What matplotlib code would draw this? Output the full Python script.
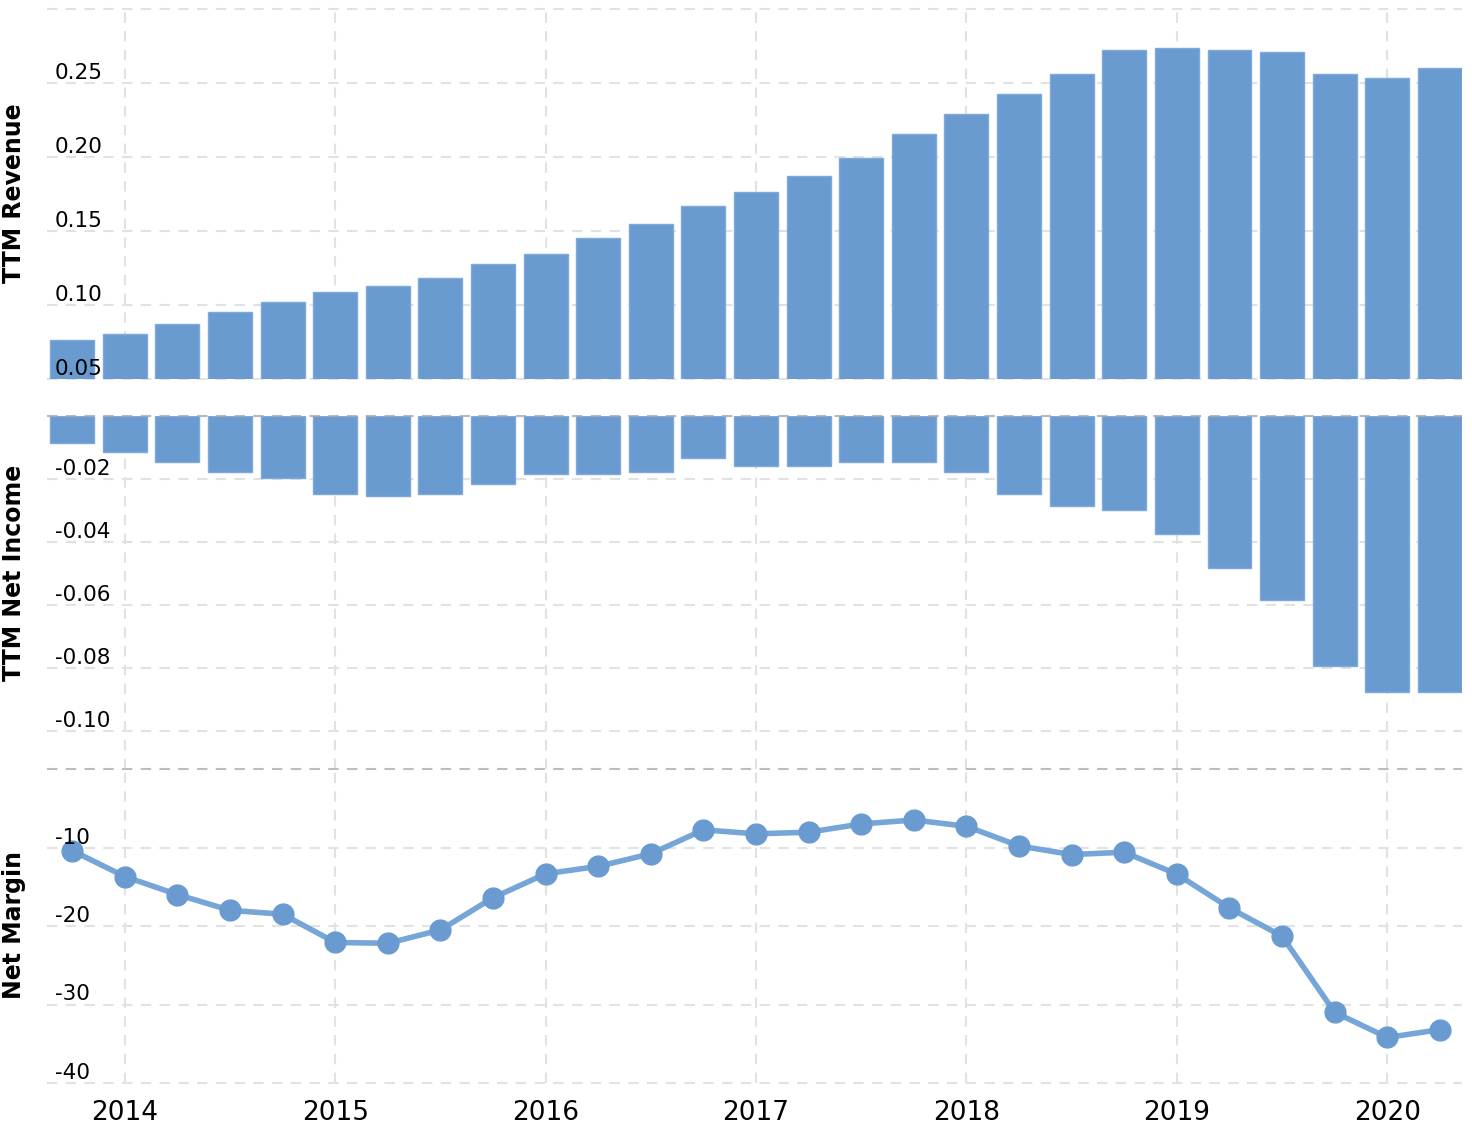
import matplotlib.pyplot as plt
import numpy as np
import pandas as pd

# quarterly periods, Q3 2013 -> Q1 2020
quarters = pd.period_range("2013Q3", "2020Q1", freq="Q")

revenue = [0.0764, 0.0804, 0.0872, 0.0953, 0.1020, 0.1088, 0.1128, 0.1182, 0.1277,
           0.1345, 0.1453, 0.1547, 0.1669, 0.1764, 0.1872, 0.1993, 0.2155, 0.2291,
           0.2426, 0.2561, 0.2723, 0.2736, 0.2723, 0.2709, 0.2561, 0.2534, 0.2601]

net_income = [-0.0087, -0.0113, -0.0145, -0.0177, -0.0196, -0.0247, -0.0253, -0.0247,
              -0.0215, -0.0183, -0.0183, -0.0177, -0.0132, -0.0158, -0.0158, -0.0145,
              -0.0145, -0.0177, -0.0247, -0.0285, -0.0297, -0.0374, -0.0482, -0.0583,
              -0.0793, -0.0875, -0.0875]

net_margin = [-10.4, -13.7, -16.0, -18.0, -18.5, -22.1, -22.2, -20.5, -16.4, -13.35,
              -12.4, -10.8, -7.75, -8.26, -8.05, -7.0, -6.5, -7.3, -9.8, -10.9, -10.6,
              -13.4, -17.7, -21.3, -31.0, -34.2, -33.2]

years = [2014, 2015, 2016, 2017, 2018, 2019, 2020]
rev_ticks = [0.05, 0.10, 0.15, 0.20, 0.25]
ni_ticks = [-0.02, -0.04, -0.06, -0.08, -0.10]
nm_ticks = [-10, -20, -30, -40]

BLUE = "#6a9bd0"
GRID = "#e2e2e2"
DARK_GRID = "#a8a8a8"
W, H = 1472, 1130

x = np.array([q.year + q.quarter * 3 / 12 for q in quarters])

fig = plt.figure(figsize=(W / 100, H / 100), dpi=100)


def make_axes(top, bottom):
    return fig.add_axes([47 / W, 1 - bottom / H, (1462 - 47) / W, (bottom - top) / H])


def style(ax, grid_vals, labels, fmt):
    for s in ax.spines.values():
        s.set_visible(False)
    ax.set_xlim(2013.63, 2020.355)
    ax.set_xticks(years)
    ax.set_yticks(grid_vals)
    ax.tick_params(length=0, labelleft=False, labelbottom=False)
    ax.grid(True, color=GRID, linestyle=(0, (5, 4)), linewidth=1.5)
    ax.set_axisbelow(True)
    for gl in ax.get_ygridlines() + ax.get_xgridlines():
        gl.set_clip_on(False)
    for v in labels:
        ax.annotate(fmt(v), xy=(0, v), xycoords=ax.get_yaxis_transform(),
                    xytext=(8, 4), textcoords="offset pixels",
                    fontsize=15.5, va="baseline", ha="left", zorder=5)


LABEL_X = -0.0148

# revenue
ax1 = make_axes(9, 379)
ax1.set_ylim(0.05, 0.30)
ax1.bar(x, revenue, width=0.209, color=BLUE, edgecolor="#7eaadb", linewidth=1, zorder=2)
style(ax1, rev_ticks + [0.30], rev_ticks, lambda v: f"{v:.2f}")
ax1.set_ylabel("TTM Revenue", fontsize=17, fontweight="bold")
ax1.yaxis.set_label_coords(LABEL_X, 0.503)

# net income
ax2 = make_axes(416, 769)
ax2.set_ylim(-0.112, 0)
ax2.bar(x, net_income, width=0.209, color=BLUE, edgecolor="#7eaadb", linewidth=1, zorder=2)
style(ax2, ni_ticks, ni_ticks, lambda v: f"{v:.2f}")
ax2.axhline(0, color=DARK_GRID, linestyle=(0, (5, 4)), linewidth=1.5, alpha=0.8,
            zorder=3, clip_on=False)
ax2.set_ylabel("TTM Net Income", fontsize=17, fontweight="bold")
ax2.yaxis.set_label_coords(LABEL_X, 0.555)

# net margin
ax3 = make_axes(769, 1083)
ax3.set_ylim(-40, 0)
style(ax3, nm_ticks, nm_ticks, lambda v: f"{v:g}")
ax3.axhline(0, color="#bdbdbd", linestyle=(0, (5, 4)), linewidth=1.5, zorder=1, clip_on=False)
ax3.plot(x, net_margin, color="#76a5d7", linewidth=4, zorder=3, clip_on=False)
ax3.plot(x, net_margin, linestyle="none", marker="o", markersize=15,
         color=BLUE, zorder=4, clip_on=False)
ax3.tick_params(labelbottom=True, labelsize=19, pad=12)
ax3.set_xticklabels([str(y) for y in years])
ax3.set_ylabel("Net Margin", fontsize=17, fontweight="bold")
ax3.yaxis.set_label_coords(LABEL_X, 0.503)

fig.savefig("out.png", dpi=100)
